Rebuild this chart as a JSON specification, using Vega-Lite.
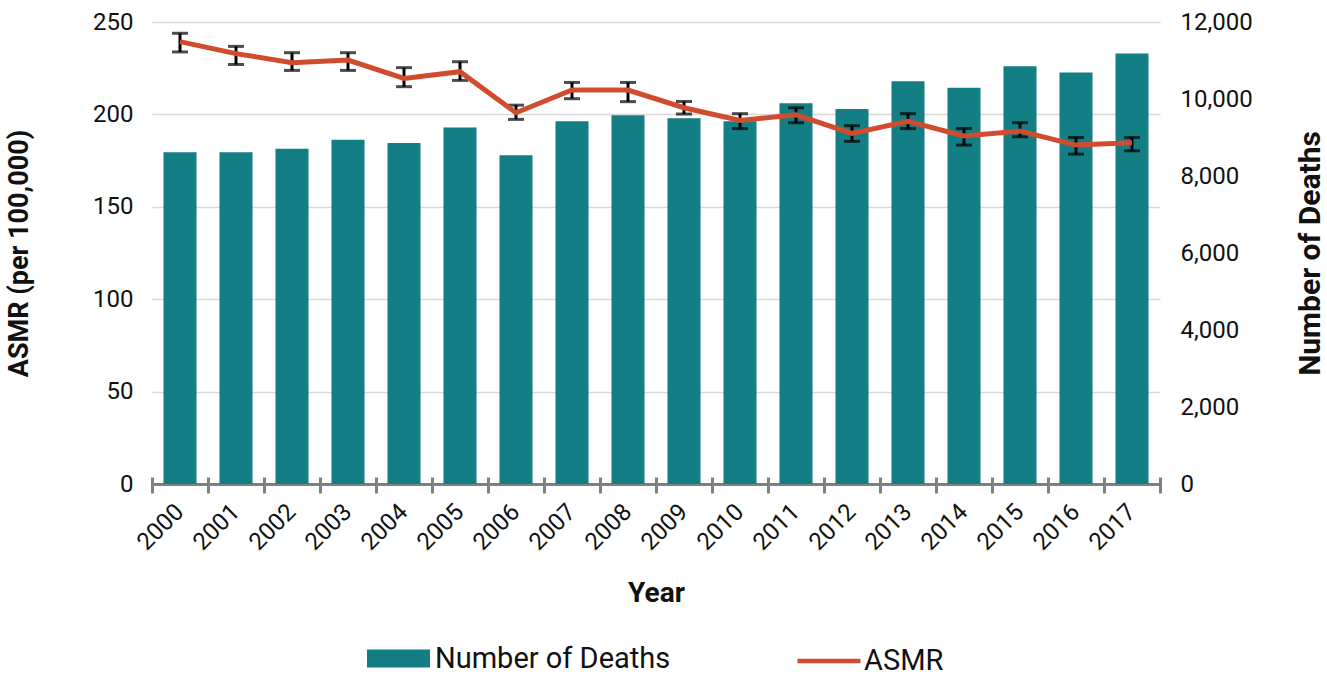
{
  "$schema": "https://vega.github.io/schema/vega-lite/v6.json",
  "width": 1008,
  "height": 462,
  "autosize": {"type": "none"},
  "padding": {"left": 152, "top": 22, "right": 167, "bottom": 193},
  "config": {
    "view": {"stroke": null},
    "font": "Roboto",
    "axis": {"labelColor": "#111111", "titleColor": "#111111", "labelFont": "Roboto", "titleFont": "Roboto"},
    "legend": {"labelFont": "Roboto"}
  },
  "data": {
    "values": [
      {"year": "2000", "deaths": 8620, "asmr": 239.4, "lo": 233.8, "hi": 243.9},
      {"year": "2001", "deaths": 8620, "asmr": 232.9, "lo": 227.0, "hi": 236.8},
      {"year": "2002", "deaths": 8710, "asmr": 228.0, "lo": 223.8, "hi": 233.4},
      {"year": "2003", "deaths": 8940, "asmr": 229.4, "lo": 223.8, "hi": 233.4},
      {"year": "2004", "deaths": 8860, "asmr": 219.5, "lo": 215.0, "hi": 225.3},
      {"year": "2005", "deaths": 9260, "asmr": 223.1, "lo": 218.4, "hi": 228.5},
      {"year": "2006", "deaths": 8540, "asmr": 200.9, "lo": 197.3, "hi": 205.0},
      {"year": "2007", "deaths": 9420, "asmr": 213.2, "lo": 208.5, "hi": 217.3},
      {"year": "2008", "deaths": 9580, "asmr": 213.2, "lo": 206.9, "hi": 217.3},
      {"year": "2009", "deaths": 9500, "asmr": 203.6, "lo": 200.2, "hi": 207.0},
      {"year": "2010", "deaths": 9420, "asmr": 196.7, "lo": 192.3, "hi": 200.4},
      {"year": "2011", "deaths": 9890, "asmr": 199.8, "lo": 195.5, "hi": 203.6},
      {"year": "2012", "deaths": 9740, "asmr": 189.7, "lo": 185.4, "hi": 193.9},
      {"year": "2013", "deaths": 10460, "asmr": 196.2, "lo": 192.3, "hi": 200.4},
      {"year": "2014", "deaths": 10290, "asmr": 188.3, "lo": 183.4, "hi": 192.4},
      {"year": "2015", "deaths": 10850, "asmr": 191.0, "lo": 187.9, "hi": 195.5},
      {"year": "2016", "deaths": 10690, "asmr": 183.4, "lo": 178.5, "hi": 187.5},
      {"year": "2017", "deaths": 11180, "asmr": 184.7, "lo": 180.3, "hi": 187.5}
    ]
  },
  "layer": [
    {
      "mark": {"type": "bar", "width": {"band": 0.59}},
      "encoding": {
        "x": {
          "field": "year", "type": "ordinal",
          "scale": {"paddingInner": 0, "paddingOuter": 0},
          "axis": {
            "orient": "bottom", "bandPosition": 1, "tickExtra": true,
            "labels": false, "domain": false, "ticks": true, "tickSize": 16,
            "offset": -7, "tickColor": "#808080", "tickWidth": 3, "grid": false, "title": null
          }
        },
        "y": {
          "field": "deaths", "type": "quantitative",
          "scale": {"domain": [0, 12000], "nice": false},
          "axis": {
            "orient": "right", "values": [0, 2000, 4000, 6000, 8000, 10000, 12000], "format": ",.0f",
            "domain": false, "ticks": false, "grid": false, "labelPadding": 20, "labelFontSize": 24,
            "title": "Number of Deaths", "titleFontSize": 30, "titleFontWeight": "bold",
            "titleAngle": -90, "titleX": 150, "titleY": 231, "titleAlign": "center", "titleBaseline": "middle"
          }
        },
        "fill": {
          "datum": "Number of Deaths",
          "scale": {"domain": ["Number of Deaths"], "range": ["#137F84"]},
          "legend": {
            "orient": "none", "legendX": 215, "legendY": 605, "direction": "horizontal", "title": null,
            "symbolType": "M-1,-0.286L1,-0.286L1,0.286L-1,0.286Z", "symbolSize": 3969, "symbolStrokeWidth": 0,
            "symbolOpacity": 1, "labelFontSize": 29, "labelColor": "#111111", "labelOffset": 5, "labelLimit": 500, "padding": 0
          }
        }
      }
    },
    {
      "encoding": {
        "x": {
          "field": "year", "type": "ordinal",
          "axis": {
            "orient": "bottom", "domain": true, "domainColor": "#808080", "domainWidth": 3,
            "ticks": false, "grid": false, "labelAngle": -45, "labelAlign": "right", "labelBaseline": "middle",
            "labelFontSize": 24, "labelPadding": 24,
            "title": "Year", "titleFontSize": 28, "titleFontWeight": "bold", "titleY": 109, "titleBaseline": "middle"
          }
        }
      },
      "layer": [
        {
          "mark": {"type": "rule", "color": "black", "strokeWidth": 3},
          "encoding": {
            "y": {
              "field": "lo", "type": "quantitative",
              "scale": {"domain": [0, 250], "nice": false},
              "axis": {
                "orient": "left", "values": [0, 50, 100, 150, 200, 250],
                "domain": false, "ticks": false, "grid": true, "gridColor": "#D9D9D9", "gridWidth": 1.5,
                "labelPadding": 19, "labelFontSize": 24,
                "title": "ASMR (per 100,000)", "titleFontSize": 27, "titleFontWeight": "bold",
                "titleAngle": -90, "titleX": -133, "titleY": 231, "titleAlign": "center", "titleBaseline": "middle"
              }
            },
            "y2": {"field": "hi"}
          }
        },
        {
          "mark": {"type": "tick", "color": "black", "size": 16, "thickness": 3},
          "encoding": {"y": {"field": "lo", "type": "quantitative", "title": "ASMR (per 100,000)"}}
        },
        {
          "mark": {"type": "tick", "color": "black", "size": 16, "thickness": 3},
          "encoding": {"y": {"field": "hi", "type": "quantitative", "title": "ASMR (per 100,000)"}}
        },
        {
          "mark": {"type": "line", "strokeWidth": 5},
          "encoding": {
            "y": {"field": "asmr", "type": "quantitative", "title": "ASMR (per 100,000)"},
            "stroke": {
              "datum": "ASMR",
              "scale": {"domain": ["ASMR"], "range": ["#D14B2F"]},
              "legend": {
                "orient": "none", "legendX": 643, "legendY": 605, "direction": "horizontal", "title": null,
                "symbolType": "stroke", "symbolSize": 3969, "symbolStrokeWidth": 4.5,
                "labelFontSize": 29, "labelColor": "#111111", "labelOffset": 1, "labelLimit": 500, "padding": 0
              }
            }
          }
        }
      ]
    }
  ],
  "resolve": {"scale": {"y": "independent"}, "axis": {"x": "independent"}}
}
